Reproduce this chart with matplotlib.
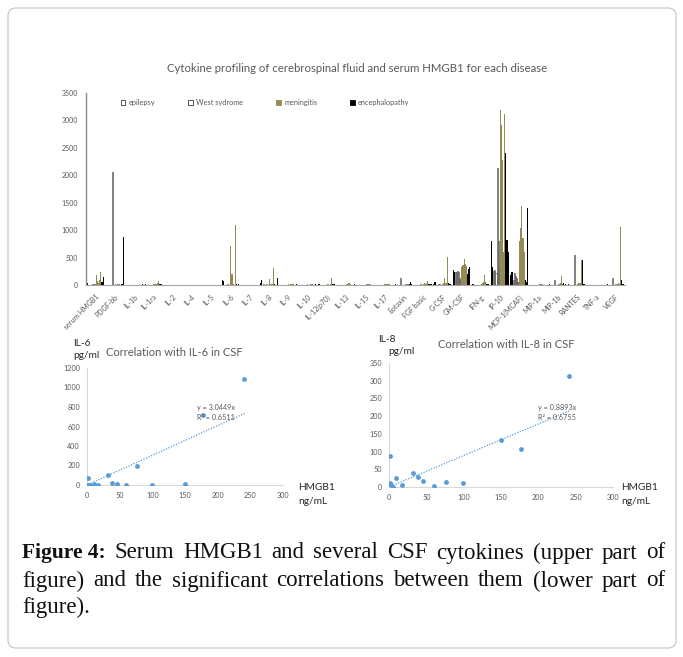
import matplotlib
matplotlib.use('Agg')
import matplotlib.pyplot as plt
from matplotlib.patches import FancyBboxPatch, Patch
import numpy as np

# ---------------- data ----------------
CATEGORIES = ['serum HMGB1', 'PDGF-bb', 'IL-1b', 'IL-1ra', 'IL-2', 'IL-4', 'IL-5', 'IL-6',
              'IL-7', 'IL-8', 'IL-9', 'IL-10', 'IL-12(p70)', 'IL-13', 'IL-15', 'IL-17',
              'Eotaxin', 'FGF basic', 'G-CSF', 'GM-CSF', 'IFN-g', 'IP-10', 'MCP-1(MCAF)',
              'MIP-1a', 'MIP-1b', 'RANTES', 'TNF-a', 'VEGF']
GROUP_NAMES = ['epilepsy', 'West sydrome', 'meningitis', 'encephalopathy']
# disease group of each of the 16 patients (bar order inside a category)
PATIENT_GROUP = ['encephalopathy', 'encephalopathy', 'epilepsy', 'West sydrome', 'epilepsy',
                 'epilepsy', 'West sydrome', 'West sydrome', 'meningitis', 'meningitis',
                 'meningitis', 'meningitis', 'meningitis', 'encephalopathy', 'encephalopathy',
                 'encephalopathy']

serum_hmgb1 = [32, 2, 3, 2, 5, 10, 17, 2, 177, 77, 39, 99, 241, 46, 60, 150]
pdgf_bb     = [5, 8, 4, 3, 6, 2060, 3, 4, 10, 8, 12, 15, 25, 6, 10, 880]
il_1b       = [3, 2, 1, 1, 2, 3, 1, 1, 4, 6, 3, 5, 8, 2, 3, 10]
il_1ra      = [10, 8, 5, 4, 6, 8, 3, 4, 25, 20, 15, 30, 65, 10, 12, 20]
il_2        = [2, 1, 1, 1, 1, 2, 1, 1, 3, 2, 2, 3, 5, 1, 2, 4]
il_4        = [3, 2, 1, 1, 2, 2, 1, 1, 4, 3, 3, 4, 6, 2, 3, 5]
il_5        = [2, 2, 1, 1, 1, 2, 1, 1, 3, 3, 2, 3, 4, 2, 2, 3]
il_6        = [100, 75, 0, 5, 0, 15, 0, 2, 720, 195, 20, 0, 1090, 10, 0, 15]
il_7        = [4, 3, 2, 2, 3, 3, 2, 2, 5, 4, 4, 6, 8, 3, 4, 6]
il_8        = [40, 88, 5, 12, 0, 25, 6, 8, 107, 13, 27, 11, 313, 17, 4, 133]
il_9        = [8, 6, 4, 3, 5, 6, 3, 4, 10, 9, 12, 15, 20, 6, 8, 10]
il_10       = [6, 5, 3, 3, 4, 5, 2, 3, 12, 8, 10, 14, 18, 5, 6, 15]
il_12p70    = [15, 20, 5, 4, 6, 8, 3, 5, 10, 12, 8, 15, 127, 10, 12, 20]
il_13       = [8, 6, 3, 3, 4, 5, 2, 3, 15, 20, 40, 45, 25, 6, 8, 10]
il_15       = [5, 4, 2, 2, 3, 3, 2, 2, 8, 10, 12, 15, 22, 4, 5, 8]
il_17       = [5, 4, 2, 2, 3, 4, 2, 2, 20, 25, 22, 18, 15, 5, 6, 8]
eotaxin     = [10, 8, 5, 4, 6, 122, 4, 5, 8, 10, 12, 15, 20, 15, 60, 25]
fgf_basic   = [8, 6, 4, 3, 5, 10, 3, 4, 15, 30, 25, 45, 70, 20, 25, 15]
g_csf       = [20, 55, 8, 5, 10, 15, 5, 6, 25, 30, 125, 40, 515, 30, 20, 15]
gm_csf      = [265, 245, 245, 230, 260, 240, 120, 100, 330, 365, 475, 385, 340, 200, 295, 330]
ifn_g       = [15, 12, 5, 4, 6, 8, 4, 5, 25, 30, 60, 176, 50, 10, 20, 15]
ip_10       = [805, 335, 260, 275, 220, 2125, 810, 300, 3185, 2925, 2270, 600, 3110, 2415, 820, 605]
mcp_1       = [180, 240, 90, 220, 160, 120, 60, 50, 805, 1030, 1445, 850, 600, 90, 50, 1410]
mip_1a      = [5, 4, 2, 2, 3, 4, 2, 2, 8, 10, 15, 12, 6, 3, 4, 5]
mip_1b      = [10, 8, 5, 4, 6, 90, 4, 5, 15, 20, 30, 165, 25, 30, 8, 10]
rantes      = [10, 8, 5, 4, 6, 545, 4, 5, 20, 30, 40, 45, 455, 455, 10, 8]
tnf_a       = [4, 3, 2, 2, 3, 3, 2, 2, 5, 4, 5, 6, 6, 3, 4, 5]
vegf        = [10, 8, 5, 4, 6, 120, 4, 5, 15, 20, 30, 25, 1060, 90, 15, 12]

ROWS = [serum_hmgb1, pdgf_bb, il_1b, il_1ra, il_2, il_4, il_5, il_6, il_7, il_8, il_9,
        il_10, il_12p70, il_13, il_15, il_17, eotaxin, fgf_basic, g_csf, gm_csf, ifn_g,
        ip_10, mcp_1, mip_1a, mip_1b, rantes, tnf_a, vegf]

IL6_FIT = ('y = 3.0449x', 'R² = 0.6511')
IL6_SLOPE = 3.0449
IL8_FIT = ('y = 0.8893x', 'R² = 0.6755')
IL8_SLOPE = 0.8893

TITLE = 'Cytokine profiling of cerebrospinal fluid and serum HMGB1 for each disease'
CAPTION_LINES = [
    ['Figure 4:', 'Serum', 'HMGB1', 'and', 'several', 'CSF', 'cytokines', '(upper', 'part', 'of'],
    ['figure)', 'and', 'the', 'significant', 'correlations', 'between', 'them', '(lower', 'part', 'of'],
    ['figure).'],
]

# ---------------- style ----------------
W, H = 683, 657
FONT = 'Lato'
GRAY_TXT = '#595959'
COLORS = {'epilepsy': '#ffffff', 'West sydrome': '#ffffff',
          'meningitis': '#948A54', 'encephalopathy': '#000000'}
EDGES = {'epilepsy': '#3a3a3a', 'West sydrome': '#3a3a3a',
         'meningitis': '#948A54', 'encephalopathy': '#000000'}
BLUE = '#5B9BD5'


def fx(px):
    return px / W


def fy(py):
    return 1 - py / H


fig = plt.figure(figsize=(W / 100, H / 100), dpi=100)
fig.patch.set_facecolor('white')

# border
border = FancyBboxPatch((fx(8), fy(648)), fx(676) - fx(8), fy(8) - fy(648),
                        boxstyle='round,pad=0,rounding_size=0.012',
                        transform=fig.transFigure, fill=False, ec='#c9c9c9', lw=0.9)
fig.patches.append(border)

# ---------------- bar chart ----------------
ax = fig.add_axes([fx(86), fy(285), fx(625) - fx(86), fy(93) - fy(285)])
n_pat = len(PATIENT_GROUP)
x = np.arange(len(CATEGORIES))
bw = 1 / (n_pat + 1.5)
for k, grp in enumerate(PATIENT_GROUP):
    off = (k + 1.25) * bw - 0.5
    heights = [row[k] for row in ROWS]
    ax.bar(x + off, heights, width=bw, color=COLORS[grp], edgecolor=EDGES[grp],
           linewidth=0.45 if grp in ('epilepsy', 'West sydrome') else 0.0)

ax.set_xlim(-0.5, len(CATEGORIES) - 0.5)
ax.set_ylim(0, 3500)
ax.set_yticks(np.arange(0, 3501, 500))
ax.set_xticks(x)
ax.set_xticklabels(CATEGORIES, rotation=45, ha='right', rotation_mode='anchor',
                   fontsize=5.0, color=GRAY_TXT, family=FONT)
for lab in ax.get_yticklabels():
    lab.set_fontsize(5.0)
    lab.set_color(GRAY_TXT)
    lab.set_family(FONT)
ax.tick_params(axis='x', length=0, pad=6)
ax.tick_params(axis='y', length=0, pad=6)
for s in ('top', 'right'):
    ax.spines[s].set_visible(False)
ax.spines['left'].set_color('#8c8c8c')
ax.spines['bottom'].set_color('#a6a6a6')
ax.spines['left'].set_linewidth(1.0)
ax.spines['bottom'].set_linewidth(0.8)

leg_handles = [Patch(facecolor=COLORS[g], edgecolor=EDGES[g], linewidth=0.6) for g in GROUP_NAMES]
ax.legend(leg_handles, GROUP_NAMES, loc='upper left', bbox_to_anchor=(fx(121), fy(99)),
          bbox_transform=fig.transFigure, ncol=4, frameon=False,
          prop={'family': FONT, 'size': 5.3}, labelcolor=GRAY_TXT,
          handlelength=0.6, handleheight=0.6, handletextpad=0.45,
          columnspacing=4.5, borderaxespad=0, borderpad=0)

fig.text(fx(357), fy(68), TITLE, ha='center', va='center', fontsize=8.2,
         color=GRAY_TXT, family=FONT)


# ---------------- scatter charts ----------------
def scatter_panel(rect, xs, ys, ymax, ystep, slope, fit_text, fit_pos, title, title_xy,
                  ylab, ylab_xy, xlab_xy):
    a = fig.add_axes(rect)
    a.scatter(xs, ys, s=12, color=BLUE, zorder=3, linewidths=0)
    xl = np.array([min(xs), max(xs)])
    a.plot(xl, slope * xl, linestyle=(0, (1, 1.2)), color=BLUE, lw=0.9, zorder=2)
    a.set_xlim(0, 300)
    a.set_ylim(0, ymax)
    a.set_xticks(np.arange(0, 301, 50))
    a.set_yticks(np.arange(0, ymax + 1, ystep))
    for lab in a.get_xticklabels() + a.get_yticklabels():
        lab.set_fontsize(5.2)
        lab.set_color(GRAY_TXT)
        lab.set_family(FONT)
    a.tick_params(length=0, pad=5)
    for s in ('top', 'right'):
        a.spines[s].set_visible(False)
    a.spines['left'].set_color('#d9d9d9')
    a.spines['bottom'].set_color('#d9d9d9')
    a.text(fit_pos[0], fit_pos[1], fit_text[0] + '\n' + fit_text[1], fontsize=5.2,
           color=GRAY_TXT, family=FONT, va='center', linespacing=1.4)
    fig.text(fx(title_xy[0]), fy(title_xy[1]), title, ha='center', va='center',
             fontsize=8.0, color=GRAY_TXT, family=FONT)
    fig.text(fx(ylab_xy[0]), fy(ylab_xy[1]), ylab[0], ha='left', va='center',
             fontsize=7.3, color='#262626', family=FONT)
    fig.text(fx(ylab_xy[0] + ylab[2]), fy(ylab_xy[1] + 13), ylab[1], ha='left', va='center',
             fontsize=7.3, color='#262626', family=FONT)
    fig.text(fx(xlab_xy[0]), fy(xlab_xy[1]), 'HMGB1', ha='center', va='center',
             fontsize=7.3, color='#262626', family=FONT)
    fig.text(fx(xlab_xy[0] - 4), fy(xlab_xy[1] + 14), 'ng/mL', ha='center', va='center',
             fontsize=7.3, color='#262626', family=FONT)
    return a


scatter_panel([fx(87), fy(485), fx(283) - fx(87), fy(368) - fy(485)],
              serum_hmgb1, il_6, 1200, 200, IL6_SLOPE, IL6_FIT, (168, 745),
              'Correlation with IL-6 in CSF', (174, 353), ('IL-6', 'pg/ml', 0),
              (73, 343), (317, 488))
scatter_panel([fx(389), fy(487), fx(613) - fx(389), fy(363) - fy(487)],
              serum_hmgb1, il_8, 350, 50, IL8_SLOPE, IL8_FIT, (200, 210),
              'Correlation with IL-8 in CSF', (506, 345), ('IL-8', 'pg/ml', 10),
              (378, 339), (640, 487))

# ---------------- caption (justified) ----------------
renderer = fig.canvas.get_renderer()
CAP_X0, CAP_X1 = 22, 665
CAP_Y = [553, 581, 607]
CAP_SIZE = 16.5
for li, words in enumerate(CAPTION_LINES):
    texts = []
    for wi, wd in enumerate(words):
        bold = (li == 0 and wi == 0)
        t = fig.text(0, fy(CAP_Y[li]), wd, ha='left', va='center',
                     fontsize=CAP_SIZE - (1.0 if bold else 0),
                     family='Liberation Serif', fontweight='bold' if bold else 'normal',
                     color='#111111')
        texts.append(t)
    widths = [t.get_window_extent(renderer).width for t in texts]
    if li < len(CAPTION_LINES) - 1 and len(texts) > 1:
        gap = (CAP_X1 - CAP_X0 - sum(widths)) / (len(texts) - 1)
    else:
        gap = renderer.points_to_pixels(CAP_SIZE) * 0.25
    cur = CAP_X0
    for t, wdt in zip(texts, widths):
        t.set_x(fx(cur))
        cur += wdt + gap

fig.savefig('out.png', dpi=100)
